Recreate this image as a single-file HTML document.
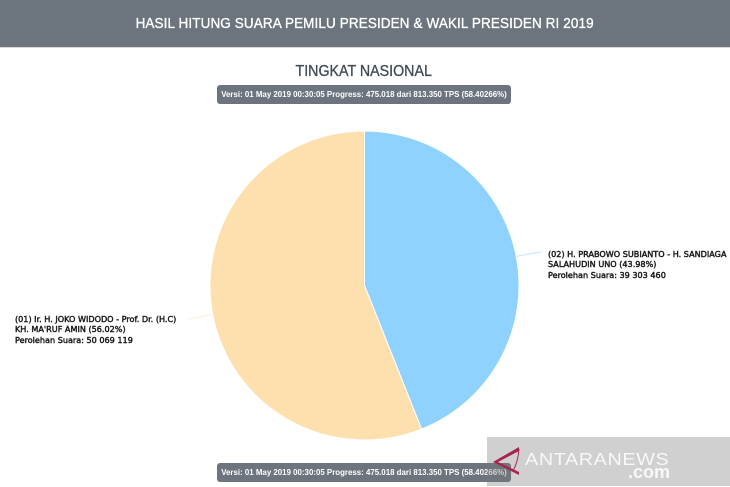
<!DOCTYPE html>
<html>
<head>
<meta charset="utf-8">
<style>
html,body{margin:0;padding:0;background:#fff;}
#page{position:relative;width:730px;height:487px;overflow:hidden;background:#fff;font-family:"Liberation Sans",sans-serif;}
#header{position:absolute;left:0;top:0;width:730px;height:47px;background:#6c757d;border-bottom:1px solid #d8dadc;color:#fff;text-align:center;line-height:47px;}
#header span{display:inline-block;font-size:14.6px;letter-spacing:.12px;transform:scaleX(.925);-webkit-text-stroke:.35px #fff;white-space:nowrap;}
#heading{position:absolute;left:0;width:728px;top:63px;text-align:center;color:#3e4a52;line-height:18px;}
#heading span{display:inline-block;font-size:15.4px;transform:scaleX(.925);-webkit-text-stroke:.3px #3e4a52;}
.badge{position:absolute;left:217px;width:294px;height:19px;background:#6c757d;border-radius:3px;color:#fff;font-size:7.9px;font-weight:bold;text-align:center;line-height:19px;white-space:nowrap;}
#chart{position:absolute;left:0;top:0;}
.lab{position:absolute;font-family:"DejaVu Sans",sans-serif;font-size:8.1px;line-height:10.3px;color:#1a1a1a;white-space:nowrap;-webkit-text-stroke:.45px #1a1a1a;}
#wm{position:absolute;left:487px;top:437px;width:243px;height:49px;background:rgba(120,120,120,.35);}
#wm-name{position:absolute;left:38px;top:12px;font-size:17.2px;color:rgba(255,255,255,.85);line-height:20px;letter-spacing:.55px;white-space:nowrap;transform:scaleX(1.15);transform-origin:left center;}
#wm-com{position:absolute;left:141px;top:27px;font-size:18px;font-weight:bold;color:rgba(255,255,255,.85);line-height:16px;white-space:nowrap;}
</style>
</head>
<body>
<div id="page">
<div id="header"><span>HASIL HITUNG SUARA PEMILU PRESIDEN &amp; WAKIL PRESIDEN RI 2019</span></div>
<div id="heading"><span>TINGKAT NASIONAL</span></div>
<div class="badge" style="top:85px">Versi: 01 May 2019 00:30:05 Progress: 475.018 dari 813.350 TPS (58.40266%)</div>
<svg id="chart" width="730" height="487"></svg>
<div class="lab" style="left:548px;top:249px">(02) H. PRABOWO SUBIANTO - H. SANDIAGA<br>SALAHUDIN UNO (43.98%)<br>Perolehan Suara: 39 303 460</div>
<div class="lab" style="left:15px;top:314px">(01) Ir. H. JOKO WIDODO - Prof. Dr. (H.C)<br>KH. MA'RUF AMIN (56.02%)<br>Perolehan Suara: 50 069 119</div>
<div class="badge" style="top:463px">Versi: 01 May 2019 00:30:05 Progress: 475.018 dari 813.350 TPS (58.40266%)</div>
<div id="wm">
<svg width="45" height="45" style="position:absolute;left:0;top:0"><path d="M32 10 L32 14 L11 25 L32 35 L32 38 L6 25 Z" fill="#a8244c"/><path d="M32 12 Q31 25 26 34" fill="none" stroke="#a8244c" stroke-width="1"/></svg>
<div id="wm-name">ANTARANEWS</div>
<div id="wm-com">.com</div>
</div>
</div>
<script>
const sliceNames = ["prabowo-slice", "jokowi-slice"];
const voteValues = [39303460, 50069119];
const sliceColors = ["#8fd2ff", "#fee0ae"];
const svgNS = "http://www.w3.org/2000/svg";
const svg = document.getElementById("chart");
const cx = 364.5, cy = 285.5, r = 154.5;
const total = voteValues.reduce((a, b) => a + b, 0);
function point(frac, rad) {
  const a = frac * 2 * Math.PI;
  return [cx + rad * Math.sin(a), cy - rad * Math.cos(a)];
}
let acc = 0;
voteValues.forEach((v, i) => {
  const f0 = acc / total;
  acc += v;
  const f1 = acc / total;
  const p0 = point(f0, r), p1 = point(f1, r);
  const large = f1 - f0 > 0.5 ? 1 : 0;
  const path = document.createElementNS(svgNS, "path");
  path.setAttribute("d", `M${cx} ${cy}L${p0[0]} ${p0[1]}A${r} ${r} 0 ${large} 1 ${p1[0]} ${p1[1]}Z`);
  path.setAttribute("fill", sliceColors[i]);
  path.setAttribute("stroke", "#fff");
  path.setAttribute("stroke-width", "1");
  
  
  svg.appendChild(path);
  const mid = (f0 + f1) / 2;
  const a = point(mid, r), b = point(mid, r + 25);
  const line = document.createElementNS(svgNS, "line");
  line.setAttribute("x1", a[0]);
  line.setAttribute("y1", a[1]);
  line.setAttribute("x2", b[0]);
  line.setAttribute("y2", b[1]);
  line.setAttribute("stroke", sliceColors[i]);
  line.setAttribute("stroke-width", "1");
  line.setAttribute("stroke-opacity", "0.55");
  
  
  svg.appendChild(line);
});
</script>
</body>
</html>
